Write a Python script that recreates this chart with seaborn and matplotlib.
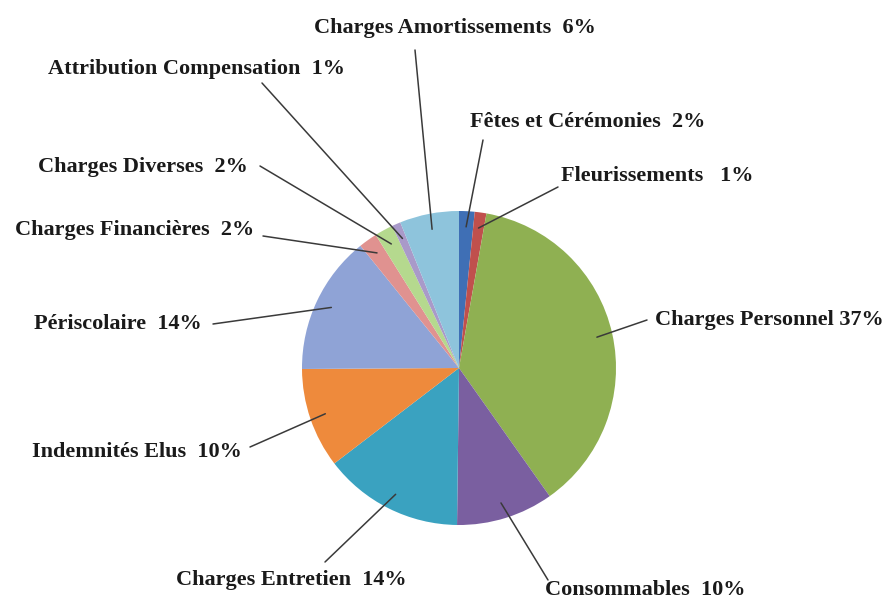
import numpy as np
import seaborn as sns
import matplotlib.pyplot as plt


# budget shares, clockwise from 12 o'clock
categories = ['Fêtes et Cérémonies', 'Fleurissements', 'Charges Personnel', 'Consommables',
              'Charges Entretien', 'Indemnités Elus', 'Périscolaire', 'Charges Financières',
              'Charges Diverses', 'Attribution Compensation', 'Charges Amortissements']
shares = [1.6, 1.2, 37.4, 10.0, 14.4, 10.3, 14.3, 1.9, 1.9, 0.9, 6.1]
separators = ['  ', '   ', ' ', '  ', '  ', '  ', '  ', '  ', '  ', '  ', '  ']

colors = ['#3f6fb5', '#c0504d', '#8fb052', '#7a5fa0', '#3aa2c0', '#ee8a3c',
          '#8fa3d6', '#e09290', '#b5d98e', '#a99ac9', '#8ec4dc']

# label layout in pixels (text centre, start of leader line)
label_xy = [(588, 122), (657, 176), (769, 320), (645, 590), (291, 580), (137, 452),
            (118, 324), (135, 230), (143, 167), (196, 69), (455, 28)]
line_start = [(483, 140), (558, 187), (647, 320), (548, 580), (325, 562), (250, 447),
              (213, 324), (263, 236), (260, 166), (262, 83), (415, 50)]

W, H = 888, 600
cx, cy, R = 459, 368, 157


def px(p):
    return ((p[0] - cx) / R, (cy - p[1]) / R)


sns.set_theme(style="white")
plt.rcParams['font.family'] = ['Liberation Serif', 'DejaVu Serif']

fig = plt.figure(figsize=(W / 100, H / 100), dpi=100)
ax = fig.add_axes([0, 0, 1, 1])
ax.axis('off')

wedges, _ = ax.pie(shares, colors=sns.color_palette(colors), startangle=90, counterclock=False,
                   radius=1, center=(0, 0), wedgeprops=dict(linewidth=0))
ax.set_aspect('equal')
ax.set_xlim(-cx / R, (W - cx) / R)
ax.set_ylim((cy - H) / R, cy / R)

for w, name, val, sep, lxy, ls in zip(wedges, categories, shares, separators, label_xy, line_start):
    mid = np.deg2rad((w.theta1 + w.theta2) / 2)
    end = (0.9 * np.cos(mid), 0.9 * np.sin(mid))
    ax.annotate('', xy=end, xytext=px(ls),
                arrowprops=dict(arrowstyle='-', color='#3a3a3a', lw=1.1, shrinkA=0, shrinkB=0))
    ax.text(*px(lxy), f'{name}{sep}{val:.0f}%', ha='center', va='center',
            fontsize=16, fontweight='bold', color='#1a1a1a')

fig.savefig('out.png', dpi=100)
